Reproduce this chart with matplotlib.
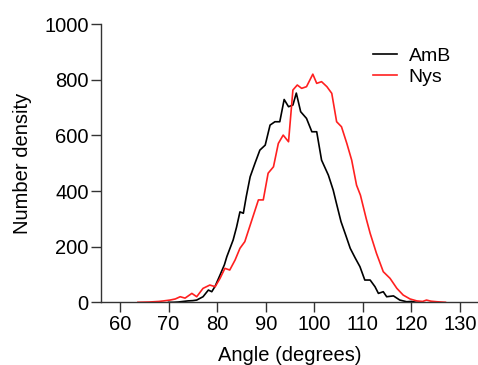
import numpy as np
import matplotlib
matplotlib.use('Agg')
import matplotlib.pyplot as plt

# angle (deg) / number density
amb_angle = [70, 71, 72, 73, 74, 75, 75.8, 77.1, 78.2, 78.9, 79.6, 80.6, 81.5, 82, 83.3, 84,
             84.7, 85.4, 86, 86.8, 87.8, 88.8, 89.9, 90.9, 91.9, 92.9, 93.8, 94.7, 95.6, 96.3,
             97.2, 98.4, 99.5, 100.5, 101.5, 102.9, 103.9, 104.5, 105.5, 106.5, 107.4, 108.4,
             109.4, 110.4, 111.5, 112.5, 113.2, 114.2, 114.9, 116.3, 117.6, 119, 120, 121, 122]
amb_dens = [0, 0, 1, 3, 5, 6, 8, 20, 44, 38, 58, 98, 135, 164, 224, 270,
            325, 320, 380, 451, 500, 547, 565, 637, 649, 649, 729, 703, 709, 752,
            685, 661, 613, 613, 511, 457, 403, 360, 290, 240, 194, 160,
            128, 80, 80, 56, 32, 38, 20, 23, 8, 2, 3, 0, 0]

nys_angle = [63.7, 66, 68, 69, 70.3, 71.4, 72.4, 73.4, 74.8, 75.8, 77.1, 78.5, 79.6, 80.6, 81.6,
             82.6, 83.7, 84.7, 85.7, 87.1, 88.5, 89.5, 90.5, 91.6, 92.6, 93.6, 94.7, 95.6, 96.5,
             97.4, 98.4, 99.7, 100.5, 101.5, 102.6, 103.6, 104.6, 105.6, 106.7, 107.7, 108.7,
             109.5, 110.7, 111.5, 112.8, 114.2, 115.6, 117, 118.3, 119.7, 121.1, 122.3, 123.1,
             124, 125.2, 127]
nys_dens = [0, 1, 3, 5, 8, 12, 20, 15, 32, 20, 50, 62, 56, 86, 122,
            116, 152, 194, 218, 293, 368, 368, 464, 487, 571, 601, 577, 763, 781,
            769, 775, 820, 787, 793, 775, 751, 649, 631, 571, 511, 421,
            385, 300, 248, 176, 110, 86, 50, 26, 12, 5, 3, 8,
            4, 2, 0]

plt.rcParams['font.family'] = ['Liberation Sans', 'DejaVu Sans']

fig = plt.figure(figsize=(4.78, 3.65), dpi=100)
ax = fig.add_axes([0.2113, 0.1718, 0.7887, 0.7622])

ax.plot(amb_angle, amb_dens, color='black', lw=1.2, label='AmB')
ax.plot(nys_angle, nys_dens, color='#ff2020', lw=1.2, label='Nys')

ax.set_xlim(56.1, 133.7)
ax.set_ylim(0, 1000)
ax.set_xticks(np.arange(60, 131, 10))
ax.set_yticks(np.arange(0, 1001, 200))

for s in ['top', 'right']:
    ax.spines[s].set_visible(False)
for s in ['left', 'bottom']:
    ax.spines[s].set_color('#333333')
    ax.spines[s].set_linewidth(1.0)
ax.tick_params(length=7, width=1.0, color='#333333', labelsize=14.5, pad=2)

ax.set_xlabel('Angle (degrees)', fontsize=14.5, labelpad=9)
ax.set_ylabel('Number density', fontsize=14.5, labelpad=9)

ax.legend(loc='upper right', bbox_to_anchor=(0.975, 0.98), frameon=False, fontsize=14,
          handlelength=1.25, handletextpad=0.6, labelspacing=0.2)

fig.savefig('out.png', dpi=100)
